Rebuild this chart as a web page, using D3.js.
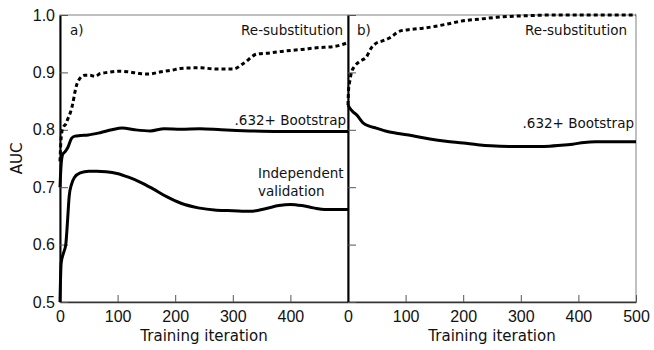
<!DOCTYPE html>
<html>
<head>
<meta charset="utf-8">
<script src="https://cdn.jsdelivr.net/npm/d3@7"></script>
<style>
  body { margin: 0; background: #fff; }
  svg { font-family: "DejaVu Sans", sans-serif; }
</style>
</head>
<body>
<svg id="chart"></svg>
<script>
// Panel a) - training iterations and AUC values
var aResubIter = [0, 1, 3, 6, 10, 14, 18, 22, 26, 31, 43, 52, 61, 70, 83, 104, 118, 139, 153, 175, 195, 209, 243, 270, 301, 319, 342, 365, 388, 420, 446, 475, 500];
var aResubAuc  = [0.745, 0.77, 0.795, 0.805, 0.81, 0.82, 0.83, 0.845, 0.866, 0.884, 0.895, 0.895, 0.893, 0.898, 0.9, 0.902, 0.901, 0.898, 0.897, 0.901, 0.904, 0.907, 0.908, 0.906, 0.906, 0.916, 0.932, 0.934, 0.937, 0.94, 0.943, 0.945, 0.952];

var aBootIter = [0, 2, 5, 9, 14, 20, 26, 35, 49, 70, 90, 108, 130, 157, 181, 210, 243, 280, 330, 380, 440, 500];
var aBootAuc  = [0.70, 0.74, 0.758, 0.762, 0.77, 0.785, 0.789, 0.79, 0.791, 0.795, 0.8, 0.803, 0.8, 0.798, 0.802, 0.801, 0.802, 0.8, 0.798, 0.797, 0.797, 0.797];

var aIndepIter = [0, 2, 6, 10, 13, 16, 20, 25, 35, 50, 64, 80, 99, 120, 139, 160, 186, 210, 240, 272, 300, 330, 358, 380, 400, 420, 440, 460, 480, 500];
var aIndepAuc  = [0.5, 0.568, 0.585, 0.6, 0.64, 0.685, 0.705, 0.717, 0.725, 0.728, 0.728, 0.727, 0.724, 0.717, 0.709, 0.698, 0.683, 0.672, 0.664, 0.66, 0.659, 0.658, 0.663, 0.668, 0.67, 0.668, 0.664, 0.661, 0.661, 0.661];

// Panel b)
var bResubIter = [0, 1, 3, 6, 11, 20, 32, 40, 49, 60, 72, 90, 110, 130, 150, 171, 200, 230, 258, 290, 316, 350, 400, 450, 500];
var bResubAuc  = [0.843, 0.87, 0.884, 0.9, 0.91, 0.919, 0.927, 0.942, 0.951, 0.955, 0.96, 0.972, 0.975, 0.977, 0.98, 0.984, 0.99, 0.993, 0.996, 0.998, 0.999, 1.0, 1.0, 1.0, 1.0];

var bBootIter = [0, 3, 8, 15, 26, 38, 49, 65, 84, 110, 142, 170, 200, 225, 248, 280, 316, 340, 370, 390, 410, 430, 460, 500];
var bBootAuc  = [0.843, 0.838, 0.832, 0.826, 0.812, 0.806, 0.803, 0.798, 0.794, 0.79, 0.784, 0.78, 0.777, 0.774, 0.772, 0.771, 0.771, 0.771, 0.773, 0.775, 0.778, 0.779, 0.779, 0.779];

// Tick values
var xTicks = [0, 100, 200, 300, 400, 500];
var yTicks = [0.5, 0.6, 0.7, 0.8, 0.9, 1.0];

var width = 654, height = 350;

var svg = d3.select("#chart")
    .attr("width", width)
    .attr("height", height);

// Shared y scale, one x scale per panel
var y = d3.scaleLinear().domain([0.5, 1.0]).range([302, 15]);
var xA = d3.scaleLinear().domain([0, 500]).range([60, 348]);
var xB = d3.scaleLinear().domain([0, 500]).range([348, 636]);

function zip(iters, vals) {
    return iters.map(function(d, i) { return { it: d, auc: vals[i] }; });
}

// Frames (grey) for both panels
[xA, xB].forEach(function(x) {
    svg.append("rect")
        .attr("x", x.range()[0])
        .attr("y", y(1.0))
        .attr("width", x.range()[1] - x.range()[0])
        .attr("height", y(0.5) - y(1.0))
        .attr("fill", "none")
        .attr("stroke", "#808080")
        .attr("stroke-width", 1);
});

// Bottom axes, ticks pointing inward
function bottomAxis(x, showLast) {
    var g = svg.append("g")
        .attr("transform", "translate(0," + y(0.5) + ")")
        .call(d3.axisBottom(x)
            .tickValues(xTicks)
            .tickSizeInner(-7)
            .tickSizeOuter(0)
            .tickPadding(9)
            .tickFormat(function(d) { return (d === 500 && !showLast) ? "" : d; }));
    g.select(".domain").attr("stroke", "#333").attr("stroke-width", 1.3);
    g.selectAll(".tick line").attr("stroke", "#555");
    g.selectAll("text").attr("font-size", 16).attr("fill", "#111");
    return g;
}
bottomAxis(xA, false);
bottomAxis(xB, true);

// Left axis of panel a with labels
var ga = svg.append("g")
    .attr("transform", "translate(" + xA(0) + ",0)")
    .call(d3.axisLeft(y)
        .tickValues(yTicks)
        .tickSizeInner(-8)
        .tickSizeOuter(0)
        .tickPadding(5)
        .tickFormat(d3.format(".1f")));
ga.select(".domain").attr("stroke", "#000").attr("stroke-width", 2);
ga.selectAll(".tick line").attr("stroke", "#555");
ga.selectAll("text").attr("font-size", 16).attr("fill", "#111");

// Left axis of panel b, no labels
var gb = svg.append("g")
    .attr("transform", "translate(" + xB(0) + ",0)")
    .call(d3.axisRight(y)
        .tickValues(yTicks)
        .tickSizeInner(8)
        .tickSizeOuter(0)
        .tickFormat(""));
gb.select(".domain").attr("stroke", "#000").attr("stroke-width", 2);
gb.selectAll(".tick line").attr("stroke", "#555");

// Curves
function drawLine(x, iters, vals, dashed) {
    var line = d3.line()
        .x(function(d) { return x(d.it); })
        .y(function(d) { return y(d.auc); })
        .curve(d3.curveMonotoneX);
    svg.append("path")
        .datum(zip(iters, vals))
        .attr("d", line)
        .attr("fill", "none")
        .attr("stroke", "#000")
        .attr("stroke-width", 3)
        .attr("stroke-dasharray", dashed ? "4,3" : null);
}
drawLine(xA, aResubIter, aResubAuc, true);
drawLine(xA, aBootIter, aBootAuc, false);
drawLine(xA, aIndepIter, aIndepAuc, false);
drawLine(xB, bResubIter, bResubAuc, true);
drawLine(xB, bBootIter, bBootAuc, false);

// Annotations
function label(x, yy, txt, anchor) {
    svg.append("text")
        .attr("x", x)
        .attr("y", yy)
        .attr("text-anchor", anchor || "start")
        .attr("font-size", 13.5)
        .attr("fill", "#111")
        .text(txt);
}
label(70, 35, "a)");
label(343, 35, "Re-substitution", "end");
label(346, 125, ".632+ Bootstrap", "end");
label(258, 178, "Independent");
label(258, 196, "validation");
label(357, 35, "b)");
label(627, 35, "Re-substitution", "end");
label(634, 128, ".632+ Bootstrap", "end");

// Axis titles
[xA, xB].forEach(function(x) {
    svg.append("text")
        .attr("x", (x.range()[0] + x.range()[1]) / 2)
        .attr("y", 341)
        .attr("text-anchor", "middle")
        .attr("font-size", 15)
        .attr("fill", "#111")
        .text("Training iteration");
});

svg.append("text")
    .attr("transform", "translate(22," + y(0.75) + ") rotate(-90)")
    .attr("text-anchor", "middle")
    .attr("font-size", 15)
    .attr("fill", "#111")
    .text("AUC");
</script>
</body>
</html>
